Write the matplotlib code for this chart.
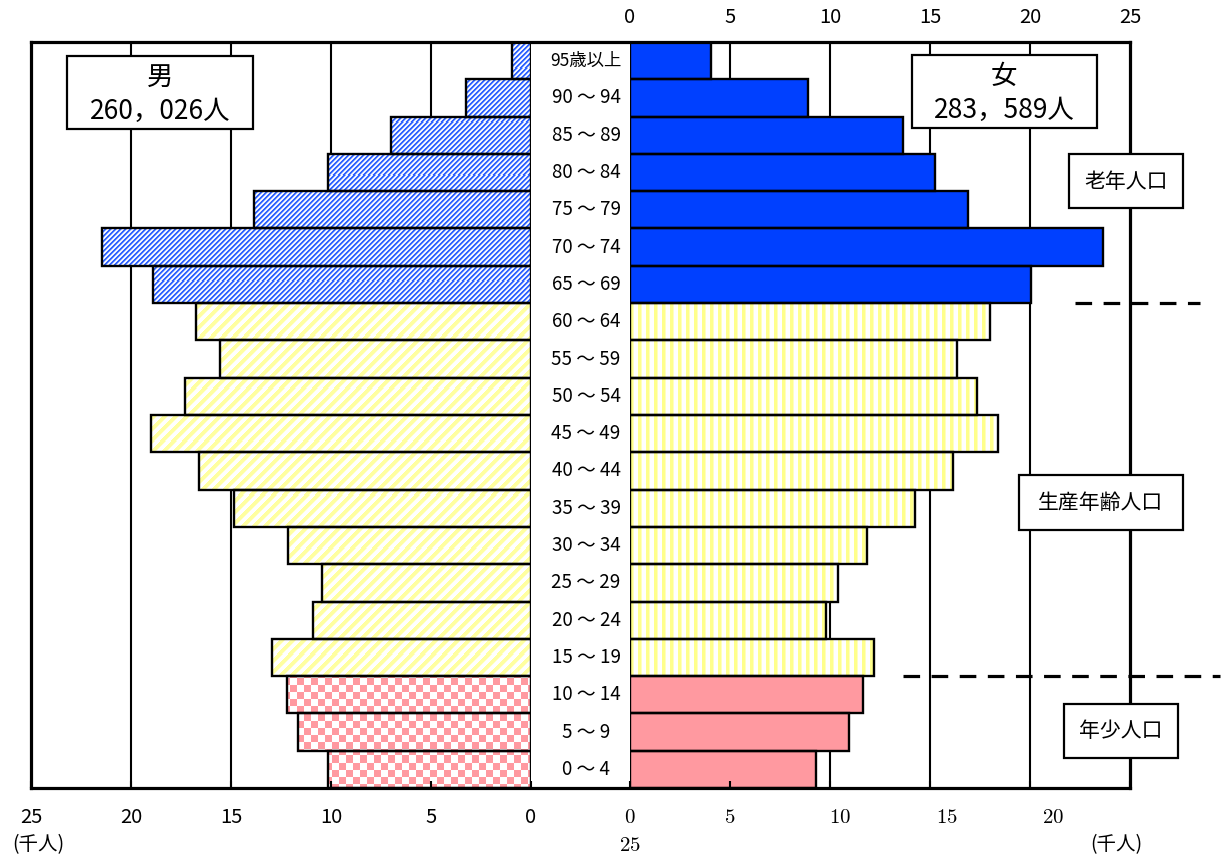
import numpy as np
import matplotlib
matplotlib.use('Agg')
import matplotlib.pyplot as plt
from matplotlib.colors import to_rgb
from matplotlib.patches import Rectangle

plt.rcParams['font.family'] = ['Noto Sans CJK JP', 'DejaVu Sans']
plt.rcParams['mathtext.fontset'] = 'cm'

# ---------------- data ----------------
ages = ['0 ～ 4', '5 ～ 9', '10 ～ 14', '15 ～ 19', '20 ～ 24', '25 ～ 29',
        '30 ～ 34', '35 ～ 39', '40 ～ 44', '45 ～ 49', '50 ～ 54', '55 ～ 59',
        '60 ～ 64', '65 ～ 69', '70 ～ 74', '75 ～ 79', '80 ～ 84', '85 ～ 89',
        '90 ～ 94', '95歳以上']
male = [10.15, 11.65, 12.2, 12.95, 10.9, 10.45, 12.15, 14.85, 16.6, 19.0,
        17.3, 15.55, 16.75, 18.9, 21.45, 13.85, 10.15, 7.0, 3.25, 0.95]
female = [9.3, 10.95, 11.65, 12.2, 9.8, 10.4, 11.85, 14.25, 16.15, 18.4,
          17.35, 16.35, 18.0, 20.05, 23.65, 16.9, 15.25, 13.65, 8.9, 4.05]
groups = ['young'] * 3 + ['working'] * 10 + ['old'] * 7
scale_ticks = [0, 5, 10, 15, 20, 25]
grid_vals = [5, 10, 15, 20]
male_title, male_total = '男', '260，026人'
female_title, female_total = '女', '283，589人'
group_names = {'old': '老年人口', 'working': '生産年齢人口', 'young': '年少人口'}
unit_label = '(千人)'

# ---------------- layout ----------------
W, H = 1226, 859
AX_W, AX_H = 500, 746
fig = plt.figure(figsize=(W / 100, H / 100), dpi=100)


def frect(x0, y0, x1, y1):
    return [x0 / W, 1 - y1 / H, (x1 - x0) / W, (y1 - y0) / H]


def fpt(x, y):
    return x / W, 1 - y / H


ax_l = fig.add_axes(frect(31, 42, 531, 788))
ax_r = fig.add_axes(frect(630, 42, 1130, 788))
ax_bg = fig.add_axes(frect(31, 42, 1130, 788), zorder=3)
ax_bg.patch.set_visible(False)
ax_bg.set_xticks([])
ax_bg.set_yticks([])
for s in ax_bg.spines.values():
    s.set_linewidth(2.3)

y = np.arange(len(ages))
EDGE_LW = 1.7
YLIM = (-0.5, len(ages) - 0.5)

for ax in (ax_l, ax_r):
    for s in ax.spines.values():
        s.set_visible(False)
    for g in grid_vals:
        ax.axvline(g, color='black', lw=1.5, zorder=0.5)


# ---------------- textures (pixel patterns) ----------------
rr, cc = np.mgrid[0:AX_H, 0:AX_W]


def texture(kind):
    img = np.ones((AX_H, AX_W, 3))
    if kind == 'blue_diag':
        k = (cc + rr) % 5
        img[(k == 0) | (k == 1)] = to_rgb('#2f62ff')
        img[k == 2] = to_rgb('#9db6ff')
        img[k == 4] = to_rgb('#dfe7ff')
    elif kind == 'yellow_diag':
        k = (cc + rr) % 11
        img[k < 5] = to_rgb('#ffffa0')
        img[k == 5] = to_rgb('#ffffd0')
    elif kind == 'yellow_vert':
        k = cc % 8
        img[k < 3] = to_rgb('#ffff8c')
        img[k == 3] = to_rgb('#ffffc0')
    elif kind == 'checker':
        k = ((rr // 7) + (cc // 7)) % 2
        img[k == 1] = to_rgb('#ff99a0')
    return img


def textured_bars(ax, yy, vals, kind, extent):
    bars = ax.barh(yy, vals, height=1.0, facecolor='white', lw=0, zorder=1)
    tex = texture(kind)
    for bar in bars:
        im = ax.imshow(tex, extent=extent, aspect='auto',
                       interpolation='nearest', zorder=1.5)
        im.set_clip_path(bar)


m = np.array(male)
f = np.array(female)
gr = np.array(groups)

# male (x axis reversed: image extent left=25)
ext_l = (25, 0, YLIM[0], YLIM[1])
textured_bars(ax_l, y[gr == 'old'], m[gr == 'old'], 'blue_diag', ext_l)
textured_bars(ax_l, y[gr == 'working'], m[gr == 'working'], 'yellow_diag', ext_l)
textured_bars(ax_l, y[gr == 'young'], m[gr == 'young'], 'checker', ext_l)
ax_l.barh(y, m, height=1.0, fill=False, edgecolor='black', lw=EDGE_LW, zorder=2)

# female
ext_r = (0, 25, YLIM[0], YLIM[1])
sel = gr == 'old'
ax_r.barh(y[sel], f[sel], height=1.0, facecolor='#0040ff', lw=0, zorder=1)
textured_bars(ax_r, y[gr == 'working'], f[gr == 'working'], 'yellow_vert', ext_r)
sel = gr == 'young'
ax_r.barh(y[sel], f[sel], height=1.0, facecolor='#ff99a0', lw=0, zorder=1)
ax_r.barh(y, f, height=1.0, fill=False, edgecolor='black', lw=EDGE_LW, zorder=2)

ax_l.set_xlim(25, 0)
ax_r.set_xlim(0, 25)
for ax in (ax_l, ax_r):
    ax.set_ylim(*YLIM)
    ax.set_yticks([])
    ax.set_xticks(scale_ticks)

# ticks
ax_l.set_xticklabels([str(v) for v in scale_ticks])
ax_l.tick_params(axis='x', direction='in', length=5, width=1.5, labelsize=14.5,
                 pad=14, bottom=True, top=False)
ax_r.set_xticklabels([str(v) for v in scale_ticks])
ax_r.tick_params(axis='x', direction='in', length=5, width=1.5, labelsize=14.5,
                 pad=10, bottom=True, top=False, labelbottom=False, labeltop=True)

# age labels
for yi, lab in zip(y, ages):
    ax_r.text(-0.088, yi, lab, transform=ax_r.get_yaxis_transform(),
              ha='center', va='center', fontsize=13.5 if '歳' not in lab else 12.5)

# right-bottom serif labels (as in reference)
for txt, px in zip(['0', '5', '10', '15', '20'], [630, 730, 840, 947, 1053]):
    fig.text(*fpt(px, 817), '$' + txt + '$', ha='center', va='center', fontsize=15)
fig.text(*fpt(630, 845), '$25$', ha='center', va='center', fontsize=15)
fig.text(*fpt(38, 845), unit_label, ha='center', va='center', fontsize=14)
fig.text(*fpt(1116, 845), unit_label, ha='center', va='center', fontsize=14)


# boxes
def box(x0, y0, x1, y1):
    fig.patches.append(Rectangle(fpt(x0, y1), (x1 - x0) / W, (y1 - y0) / H,
                                 transform=fig.transFigure, facecolor='white',
                                 edgecolor='black', lw=1.6, zorder=5))


box(67, 56, 253, 129)
fig.text(*fpt(160, 77), male_title, ha='center', va='center', fontsize=19, zorder=6)
fig.text(*fpt(160, 111), male_total, ha='center', va='center', fontsize=19, zorder=6)
box(912, 55, 1097, 128)
fig.text(*fpt(1004, 76), female_title, ha='center', va='center', fontsize=19, zorder=6)
fig.text(*fpt(1004, 110), female_total, ha='center', va='center', fontsize=19, zorder=6)
box(1069, 154, 1183, 208)
fig.text(*fpt(1126, 182), group_names['old'], ha='center', va='center', fontsize=15, zorder=6)
box(1019, 475, 1183, 530)
fig.text(*fpt(1101, 503), group_names['working'], ha='center', va='center', fontsize=15, zorder=6)
box(1064, 704, 1178, 758)
fig.text(*fpt(1121, 731), group_names['young'], ha='center', va='center', fontsize=15, zorder=6)

# dashed separators
ax_r.plot([22.25, 28.5], [12.5, 12.5], color='black', lw=2.3, dashes=(5.2, 3.6),
          clip_on=False, zorder=4)
ax_r.plot([13.65, 29.5], [2.5, 2.5], color='black', lw=2.3, dashes=(5.2, 3.6),
          clip_on=False, zorder=4)

fig.savefig('out.png', dpi=100)
